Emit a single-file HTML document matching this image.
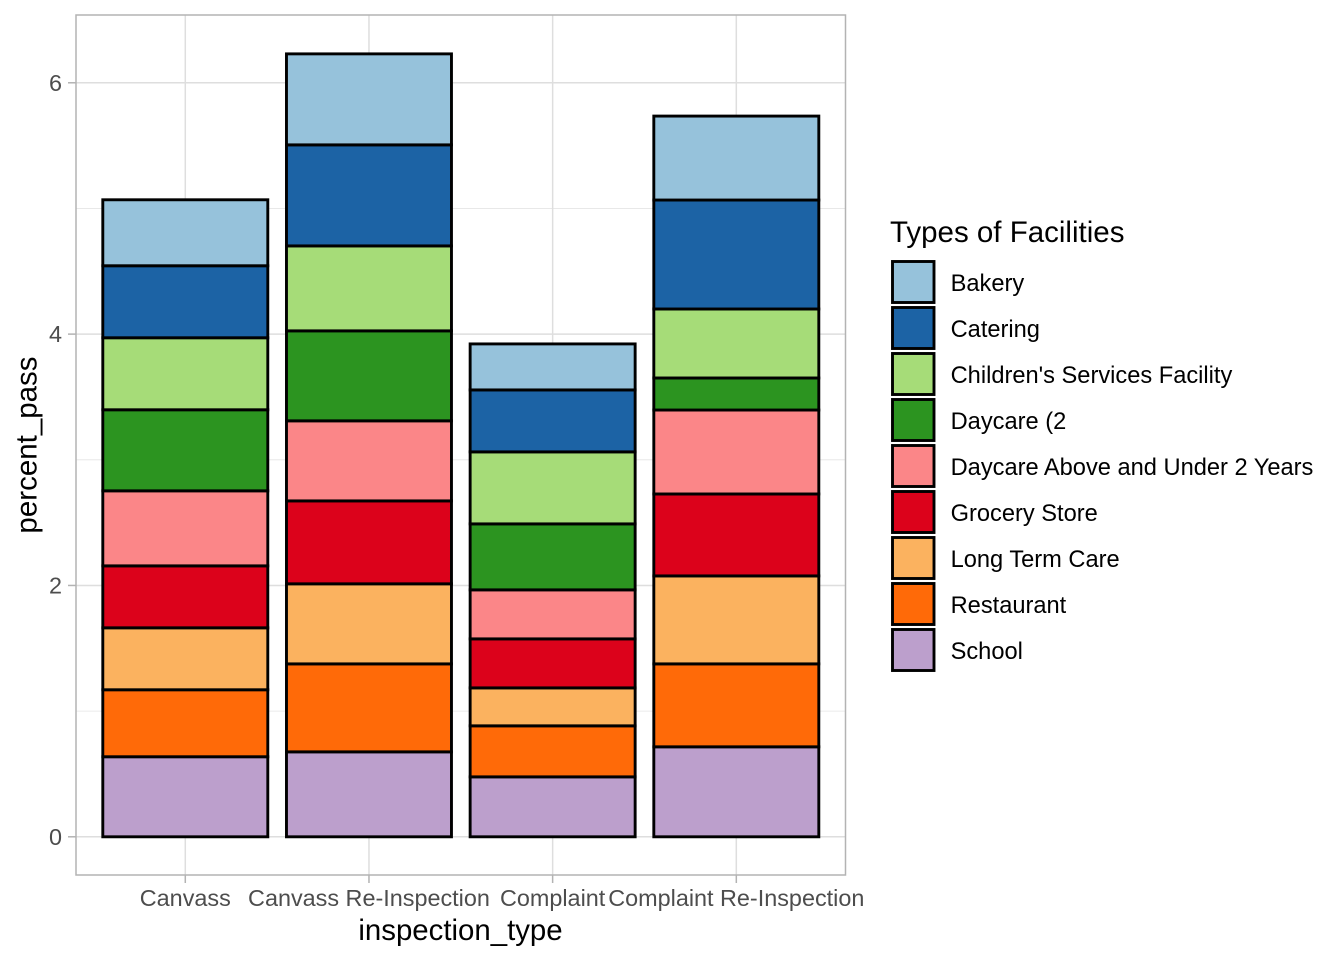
<!DOCTYPE html>
<html>
<head>
<meta charset="utf-8">
<style>
html,body{margin:0;padding:0;background:#fff;width:1344px;height:960px;overflow:hidden}
svg{display:block;font-family:"Liberation Sans",Arial,sans-serif}
</style>
</head>
<body>
<svg id="chart" xmlns="http://www.w3.org/2000/svg" width="1344" height="960" viewBox="0 0 1344 960">
<rect width="1344" height="960" fill="#fff"/>
<text x="460.5" y="940" font-size="29.4" text-anchor="middle" fill="#000">inspection_type</text>
<text transform="translate(36.5 445) rotate(-90)" font-size="29.5" text-anchor="middle" fill="#000">percent_pass</text>
<text x="890" y="242" font-size="29.5" fill="#000">Types of Facilities</text>
</svg>
<script>
const categories = ["Canvass", "Canvass Re-Inspection", "Complaint", "Complaint Re-Inspection"];
const facilityTypes = ["Bakery", "Catering", "Children's Services Facility", "Daycare (2", "Daycare Above and Under 2 Years", "Grocery Store", "Long Term Care", "Restaurant", "School"];
const bakery = [0.525, 0.724, 0.366, 0.668];
const catering = [0.573, 0.804, 0.493, 0.867];
const childrens = [0.573, 0.676, 0.573, 0.549];
const daycare2 = [0.645, 0.716, 0.525, 0.255];
const daycareAbove = [0.597, 0.637, 0.390, 0.668];
const grocery = [0.493, 0.660, 0.390, 0.652];
const longTermCare = [0.493, 0.637, 0.302, 0.700];
const restaurant = [0.533, 0.700, 0.406, 0.660];
const school = [0.637, 0.676, 0.477, 0.716];
const fillColors = ["#96c2db", "#1c63a5", "#a6dc78", "#2c9420", "#fb8688", "#dc021b", "#fbb25f", "#ff6a08", "#bc9fcc"];
const yTicks = [0, 2, 4, 6];
const yMinorTicks = [1, 3, 5];

const seriesValues = [bakery, catering, childrens, daycare2, daycareAbove, grocery, longTermCare, restaurant, school];
const NS = "http://www.w3.org/2000/svg";
const svg = document.getElementById("chart");
const panel = {left: 76, right: 845.5, top: 15, bottom: 875};
const barBand = 165;

function xScale(i) { return 185.3 + i * 183.67; }
function yScale(v) { return 836.8 - v * 125.67; }

function make(tag, attrs, text) {
  const el = document.createElementNS(NS, tag);
  for (const k in attrs) el.setAttribute(k, attrs[k]);
  if (text !== undefined) el.textContent = text;
  svg.appendChild(el);
  return el;
}

// minor grid
yMinorTicks.forEach(function (v) {
  const el = make("line", {x1: panel.left, x2: panel.right, y1: yScale(v), y2: yScale(v), stroke: "#e4e4e4", "stroke-width": 0.8});
  
  
});
// major grid and ticks, y
yTicks.forEach(function (v) {
  const g = make("line", {x1: panel.left, x2: panel.right, y1: yScale(v), y2: yScale(v), stroke: "#dedede", "stroke-width": 1.5});
  
  
  const t = make("line", {x1: 68, x2: panel.left, y1: yScale(v), y2: yScale(v), stroke: "#b3b3b3", "stroke-width": 1.5});
  
  
  const l = make("text", {x: 62, y: yScale(v) + 8, "font-size": 23.4, "text-anchor": "end", fill: "#4d4d4d"}, String(v));
  
  
});
// major grid and ticks, x
categories.forEach(function (c, i) {
  const g = make("line", {x1: xScale(i), x2: xScale(i), y1: panel.top, y2: panel.bottom, stroke: "#dedede", "stroke-width": 1.5});
  
  
  const t = make("line", {x1: xScale(i), x2: xScale(i), y1: panel.bottom, y2: 883, stroke: "#b3b3b3", "stroke-width": 1.5});
  
  
  const l = make("text", {x: xScale(i), y: 906, "font-size": 23.4, "text-anchor": "middle", fill: "#4d4d4d"}, c);
  
  
});
// stacked bars: last series sits at the bottom of each stack
categories.forEach(function (c, i) {
  let base = 0;
  for (let s = seriesValues.length - 1; s >= 0; s--) {
    const v = seriesValues[s][i];
    const top = base + v;
    const bar = make("rect", {
      x: xScale(i) - barBand / 2,
      y: yScale(top),
      width: barBand,
      height: yScale(base) - yScale(top),
      fill: fillColors[s],
      stroke: "#000",
      "stroke-width": 2.9,
      "stroke-linejoin": "miter"
    });
    
    
    base = top;
  }
});
// panel border
const border = make("rect", {x: panel.left, y: panel.top, width: panel.right - panel.left, height: panel.bottom - panel.top, fill: "none", stroke: "#b3b3b3", "stroke-width": 1.5});


// legend
facilityTypes.forEach(function (name, i) {
  const y = 261.5 + i * 46;
  const key = make("rect", {x: 892.5, y: y, width: 41.5, height: 41, fill: fillColors[i], stroke: "#000", "stroke-width": 2.9});
  
  
  const label = make("text", {x: 950.6, y: y + 29.7, "font-size": 23.65, fill: "#000"}, name);
  
  
});
</script>
</body>
</html>
